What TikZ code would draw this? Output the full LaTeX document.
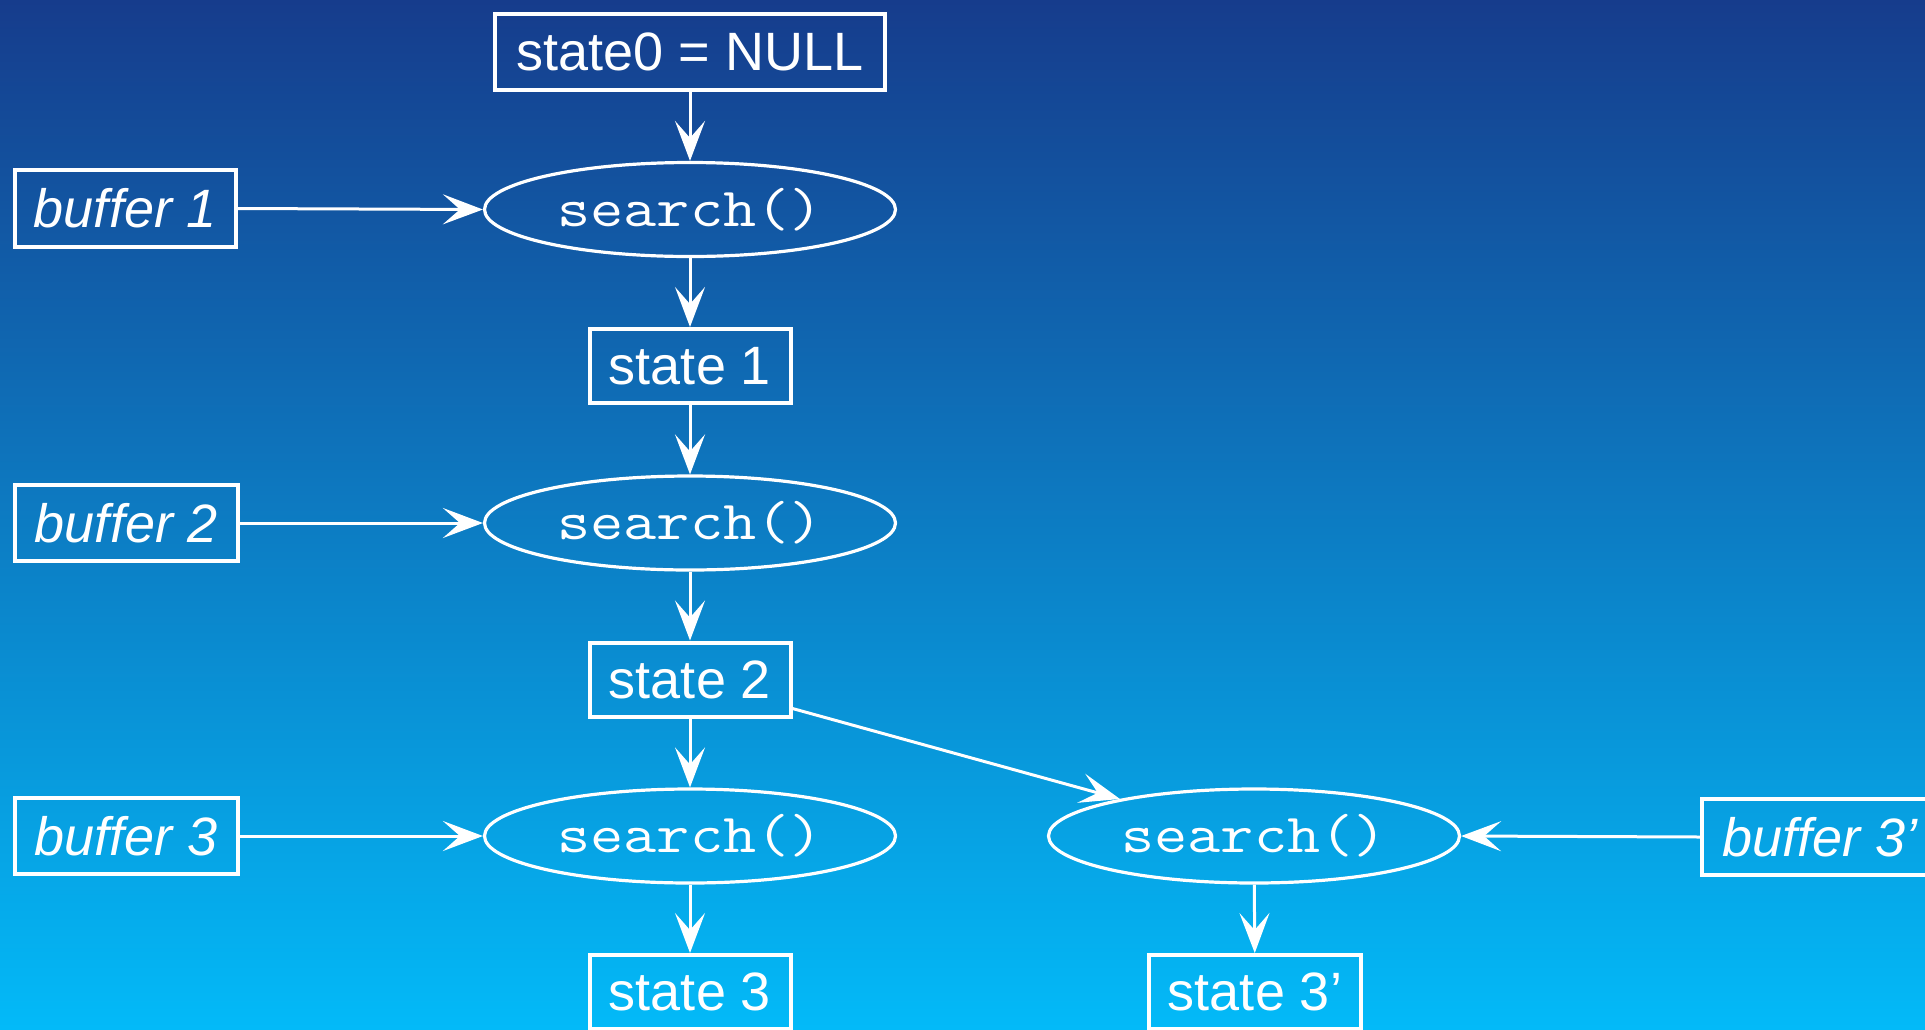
\documentclass[tikz,border=0pt]{standalone}
\usepackage{fontspec}
\setmainfont{Liberation Sans}
\newfontfamily\codefont{Latin Modern Mono}[FakeStretch=1.17]
\usetikzlibrary{arrows.meta,shapes.geometric}
\definecolor{bgtop}{HTML}{163C8C}
\definecolor{bgbottom}{HTML}{03BAF8}
\tikzset{
  statebox/.style={rectangle, draw=white, line width=4pt, inner sep=0pt,
    text=white, font=\fontsize{54}{60}\selectfont},
  bufbox/.style={statebox, font=\fontsize{54}{60}\selectfont\itshape},
  searchell/.style={ellipse, draw=white, line width=3.2pt, inner sep=0pt,
    minimum width=411pt, minimum height=94pt, text=white,
    font=\codefont\fontsize{55}{60}\selectfont},
  flow/.style={draw=white, line width=3pt,
    -{Stealth[length=40pt,width=30pt,inset=17pt]}}
}
\begin{document}
\begin{tikzpicture}[x=1pt,y=-1pt]
  % background with vertical gradient
  \useasboundingbox (0,0) rectangle (1925,1029);
  \clip (0,0) rectangle (1925,1029);
  \shade[top color=bgtop, bottom color=bgbottom] (0,0) rectangle (1925,1029);

  % states
  \node[statebox, minimum width=390pt, minimum height=76pt] (s0) at (690,52) {state0 = NULL};
  \node[statebox, minimum width=201pt, minimum height=74pt] (s1) at (690,366) {state 1};
  \node[statebox, minimum width=201pt, minimum height=74pt] (s2) at (690,679.5) {state 2};
  \node[statebox, minimum width=201pt, minimum height=74pt] (s3) at (690,992) {state 3};
  \node[statebox, minimum width=212pt, minimum height=74pt] (s3p) at (1255,992) {state 3’};

  % search calls
  \node[searchell] (e1) at (690,209.5) {search()};
  \node[searchell] (e2) at (690,523) {search()};
  \node[searchell] (e3) at (690,836) {search()};
  \node[searchell] (e4) at (1254,836) {search()};

  % input buffers
  \node[bufbox, minimum width=221pt, minimum height=77pt] (b1) at (125.5,208.5) {buffer 1};
  \node[bufbox, minimum width=223pt, minimum height=76pt] (b2) at (126.5,523) {buffer 2};
  \node[bufbox, minimum width=223pt, minimum height=76pt] (b3) at (126,836) {buffer 3};
  \node[bufbox, minimum width=236pt, minimum height=76pt] (b3p) at (1820,837) {buffer 3’};

  % main chain
  \draw[flow] (s0) -- (e1);
  \draw[flow] (e1) -- (s1);
  \draw[flow] (s1) -- (e2);
  \draw[flow] (e2) -- (s2);
  \draw[flow] (s2) -- (e3);
  \draw[flow] (e3) -- (s3);
  \draw[flow] ([yshift=10pt]s2.south east) -- (e4);
  \draw[flow] (e4) -- (s3p);

  % buffers feeding the calls
  \draw[flow] (b1.east) -- (e1.west);
  \draw[flow] (b2.east) -- (e2.west);
  \draw[flow] (b3.east) -- (e3.west);
  \draw[flow] (b3p.west) -- (e4.east);
\end{tikzpicture}
\end{document}
